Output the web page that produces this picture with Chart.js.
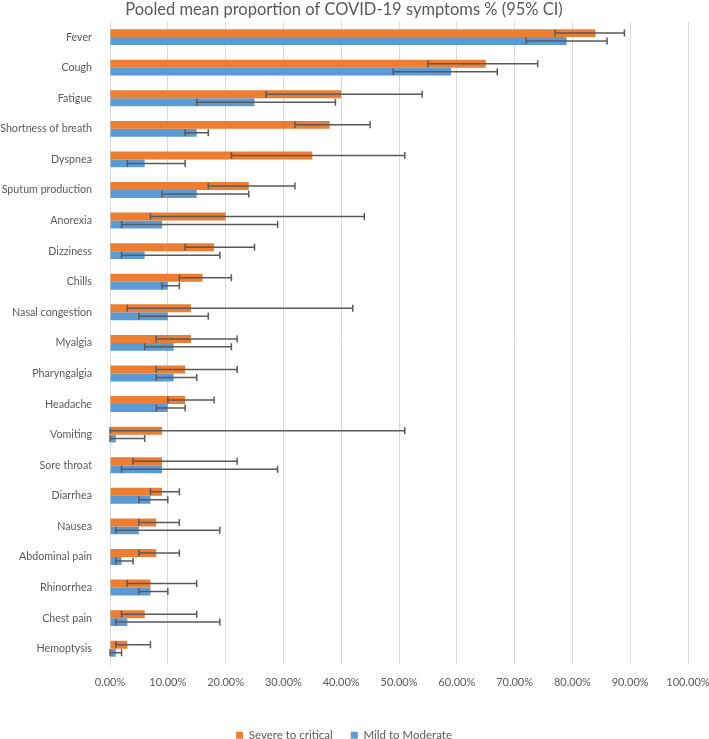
<!DOCTYPE html>
<html>
<head>
<meta charset="utf-8">
<script src="https://cdn.jsdelivr.net/npm/chart.js@4.4.1/dist/chart.umd.min.js"></script>
<style>
  html, body { margin: 0; padding: 0; background: #fff; overflow: hidden; }
  #wrap { width: 709px; height: 751px; position: relative; }
</style>
</head>
<body>
<div id="wrap"><canvas id="chart"></canvas></div>
<script>
  const categories = [
    "Fever", "Cough", "Fatigue", "Shortness of breath", "Dyspnea", "Sputum production",
    "Anorexia", "Dizziness", "Chills", "Nasal congestion", "Myalgia", "Pharyngalgia",
    "Headache", "Vomiting", "Sore throat", "Diarrhea", "Nausea", "Abdominal pain",
    "Rhinorrhea", "Chest pain", "Hemoptysis"
  ];

  // pooled mean, percent
  const severeValues = [84, 65, 40, 38, 35, 24, 20, 18, 16, 14, 14, 13, 13, 9, 9, 9, 8, 8, 7, 6, 3];
  const severeLow    = [77, 55, 27, 32, 21, 17, 7, 13, 12, 3, 8, 8, 10, 0, 4, 7, 5, 5, 3, 2, 1];
  const severeHigh   = [89, 74, 54, 45, 51, 32, 44, 25, 21, 42, 22, 22, 18, 51, 22, 12, 12, 12, 15, 15, 7];

  const mildValues = [79, 59, 25, 15, 6, 15, 9, 6, 10, 10, 11, 11, 10, 1, 9, 7, 5, 2, 7, 3, 1];
  const mildLow    = [72, 49, 15, 13, 3, 9, 2, 2, 9, 5, 6, 8, 8, 0, 2, 5, 1, 1, 5, 1, 0];
  const mildHigh   = [86, 67, 39, 17, 13, 24, 29, 19, 12, 17, 21, 15, 13, 6, 29, 10, 19, 4, 10, 19, 2];

  const xTicks = [0, 10, 20, 30, 40, 50, 60, 70, 80, 90, 100];

  const seriesNames = ["Severe to critical", "Mild to Moderate"];
  const colors = { severe: "#ED7D31", mild: "#5B9BD5", text: "#595959", grid: "#D9D9D9", err: "#595959" };
  const errors = [[severeLow, severeHigh], [mildLow, mildHigh]];

  const errorBars = {
    id: "errorBars",
    afterDatasetsDraw(chart) {
      const ctx = chart.ctx;
      const x = chart.scales.x;
      ctx.save();
      ctx.strokeStyle = colors.err;
      ctx.lineWidth = 1.5;
      errors.forEach((pair, di) => {
        const meta = chart.getDatasetMeta(di);
        meta.data.forEach((bar, i) => {
          const x0 = x.getPixelForValue(pair[0][i]);
          const x1 = x.getPixelForValue(pair[1][i]);
          const y = bar.y;
          ctx.beginPath();
          ctx.moveTo(x0, y); ctx.lineTo(x1, y);
          ctx.moveTo(x0, y - 3.5); ctx.lineTo(x0, y + 3.5);
          ctx.moveTo(x1, y - 3.5); ctx.lineTo(x1, y + 3.5);
          ctx.stroke();
        });
      });
      ctx.restore();
    }
  };

  Chart.defaults.font.family = "Lato, 'Open Sans', sans-serif";
  Chart.defaults.color = colors.text;
  Chart.defaults.animation = false;

  new Chart(document.getElementById("chart"), {
    type: "bar",
    data: {
      labels: categories,
      datasets: [
        { label: seriesNames[0], data: severeValues, backgroundColor: colors.severe },
        { label: seriesNames[1], data: mildValues, backgroundColor: colors.mild }
      ]
    },
    options: {
      indexAxis: "y",
      responsive: true,
      maintainAspectRatio: false,
      categoryPercentage: 0.52,
      barPercentage: 1,
      layout: { padding: { left: 0, right: 21, top: 0, bottom: 0 } },
      plugins: {
        title: {
          display: true,
          text: "Pooled mean proportion of COVID-19 symptoms % (95% CI)",
          color: colors.text,
          font: { size: 16.5, weight: "normal", lineHeight: 1.23 },
          padding: { top: 0, bottom: 1.5 },
          fullSize: true
        },
        legend: {
          position: "bottom",
          labels: { boxWidth: 7, boxHeight: 7, font: { size: 11.5 }, color: colors.text, padding: 18 }
        },
        tooltip: { enabled: false }
      },
      scales: {
        x: {
          min: 0,
          max: 100,
          afterBuildTicks: axis => { axis.ticks = xTicks.map(v => ({ value: v })); },
          grid: { color: colors.grid, drawTicks: false },
          border: { display: false },
          ticks: { padding: 12, font: { size: 11 }, callback: v => v.toFixed(2) + "%" },
          afterFit: axis => { axis.height = 47.5; axis.paddingRight = 0; axis.paddingLeft = 0; }
        },
        y: {
          grid: { display: false },
          border: { color: colors.grid },
          ticks: { padding: 10, font: { size: 10.7 }, color: colors.text },
          afterFit: axis => { axis.width = 110; axis.paddingTop = 0; axis.paddingBottom = 0; }
        }
      }
    },
    plugins: [errorBars]
  });
</script>
</body>
</html>
